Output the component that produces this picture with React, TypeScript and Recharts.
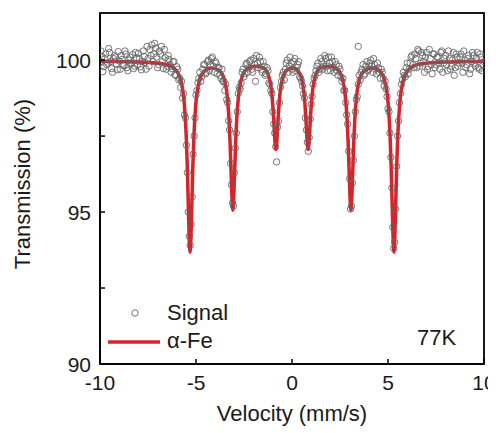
import React from 'react';
import { ComposedChart, Line, Scatter, XAxis, YAxis, Customized } from 'recharts';

const xTicks = [-10, -5, 0, 5, 10];
const yTicks = [90, 92.5, 95, 97.5, 100];
const xDomain: [number, number] = [-10, 10];
const yDomain: [number, number] = [90, 101.55];

// Signal: [velocity (mm/s), transmission (%)]
const signalPointsA: [number, number][] = [
  [-10.0, 99.92], [-9.9, 100.12], [-9.8, 99.78], [-9.7, 100.2], [-9.6, 99.9], [-9.5, 100.25], [-9.4, 99.72], [-9.3, 100.05],
  [-9.2, 100.1], [-9.1, 99.68], [-9.0, 99.97], [-8.9, 100.15], [-8.8, 99.83], [-8.7, 100.3], [-8.6, 99.75], [-8.5, 100.0],
  [-8.4, 99.87], [-8.3, 100.18], [-8.2, 99.8], [-8.1, 100.08], [-8.0, 100.22], [-7.9, 99.78], [-7.8, 99.95], [-7.7, 100.12],
  [-7.6, 99.7], [-7.5, 100.05], [-7.4, 100.35], [-7.3, 100.5], [-7.2, 100.2], [-7.1, 100.4], [-7.0, 99.75], [-6.9, 100.3],
  [-6.8, 100.45], [-6.7, 99.72], [-6.6, 100.08], [-6.5, 99.8], [-6.4, 100.02], [-6.3, 99.6], [-6.2, 99.95], [-6.1, 99.52],
  [-6.0, 99.78], [-5.9, 99.35], [-5.8, 99.1], [-5.7, 98.75], [-5.6, 98.2], [-5.5, 97.2], [-5.4, 95.0], [-5.3, 93.9],
  [-5.2, 95.5], [-5.1, 97.5], [-5.0, 98.85], [-4.9, 99.25], [-4.8, 99.6], [-4.7, 99.45], [-4.6, 99.85], [-4.5, 99.55],
  [-4.4, 99.95], [-4.3, 99.65], [-4.2, 100.05], [-4.1, 99.8], [-4.0, 99.95], [-3.9, 99.55], [-3.8, 99.75], [-3.7, 99.4],
  [-3.6, 99.3], [-3.5, 99.0], [-3.4, 98.7], [-3.3, 98.0], [-3.2, 96.6], [-3.1, 95.3], [-3.0, 96.3], [-2.9, 97.6],
  [-2.8, 98.9], [-2.7, 99.05], [-2.6, 99.6], [-2.5, 99.45], [-2.4, 99.85], [-2.3, 99.6], [-2.2, 99.95], [-2.1, 99.7],
  [-2.0, 100.05], [-1.9, 99.3], [-1.8, 99.9], [-1.7, 100.1], [-1.6, 99.7], [-1.5, 99.95], [-1.4, 99.5], [-1.3, 99.75],
  [-1.2, 99.25], [-1.1, 99.0], [-1.0, 98.3], [-0.9, 97.6], [-0.8, 96.65], [-0.7, 98.0], [-0.6, 99.1], [-0.5, 99.5],
  [-0.4, 99.35], [-0.3, 99.9], [-0.2, 99.6], [-0.1, 100.1], [0.0, 99.7], [0.1, 99.95], [0.2, 99.65], [0.3, 99.85],
  [0.4, 99.45], [0.5, 99.3], [0.6, 98.9], [0.7, 98.1], [0.8, 97.3], [0.9, 97.45], [1.0, 98.55], [1.1, 99.2],
  [1.2, 99.5], [1.3, 99.8], [1.4, 99.6], [1.5, 100.05], [1.6, 99.7], [1.7, 100.15], [1.8, 99.8], [1.9, 100.1],
  [2.0, 99.65], [2.1, 99.95], [2.2, 99.6], [2.3, 99.85], [2.4, 99.5], [2.5, 99.7], [2.6, 99.3], [2.7, 99.0],
  [2.8, 98.6], [2.9, 97.9], [3.0, 96.1], [3.1, 95.2], [3.2, 96.7], [3.3, 98.3], [3.4, 98.8], [3.45, 100.45],
  [3.5, 99.5], [3.6, 99.6], [3.7, 99.85], [3.8, 99.55], [3.9, 99.95], [4.0, 99.7], [4.1, 100.0], [4.2, 99.6],
  [4.3, 99.85], [4.4, 99.55], [4.5, 99.75], [4.6, 99.4], [4.7, 99.6], [4.8, 99.15], [4.9, 99.05], [5.0, 98.4],
  [5.1, 97.6], [5.2, 95.8], [5.3, 93.8], [5.4, 95.1], [5.5, 97.5], [5.6, 98.6], [5.7, 99.2], [5.8, 99.6],
  [5.9, 99.45], [6.0, 99.9], [6.1, 99.7], [6.2, 100.1], [6.3, 99.85], [6.4, 100.2], [6.5, 99.75], [6.6, 100.3],
  [6.7, 99.9], [6.8, 100.15], [6.9, 99.6], [7.0, 100.25], [7.1, 99.8], [7.2, 100.05], [7.3, 99.55], [7.4, 100.2],
  [7.5, 99.85], [7.6, 100.1], [7.7, 99.7], [7.8, 100.3], [7.9, 99.9], [8.0, 100.15], [8.1, 99.65], [8.2, 100.05],
  [8.3, 99.8], [8.4, 100.25], [8.5, 99.75], [8.6, 100.1], [8.7, 99.9], [8.8, 100.2], [8.9, 99.6], [9.0, 100.0],
  [9.1, 99.85], [9.2, 100.15], [9.3, 99.7], [9.4, 100.25], [9.5, 99.9], [9.6, 100.05], [9.7, 99.75], [9.8, 100.2],
  [9.9, 99.65], [10.0, 99.95],
];

const signalPointsB: [number, number][] = [
  [-9.95, 100.3], [-9.85, 99.62], [-9.75, 100.05], [-9.65, 99.85], [-9.55, 100.38], [-9.45, 99.95], [-9.35, 99.6], [-9.25, 100.15],
  [-9.15, 99.88], [-9.05, 100.28], [-8.95, 99.7], [-8.85, 100.02], [-8.75, 99.82], [-8.65, 100.2], [-8.55, 99.65], [-8.45, 100.1],
  [-8.35, 99.9], [-8.25, 99.72], [-8.15, 100.25], [-8.05, 99.85], [-7.95, 100.05], [-7.85, 99.68], [-7.75, 100.3], [-7.65, 99.92],
  [-7.55, 100.45], [-7.45, 99.8], [-7.35, 100.15], [-7.25, 99.95], [-7.15, 100.55], [-7.05, 100.1], [-6.95, 99.85], [-6.85, 100.2],
  [-6.75, 99.95], [-6.65, 100.35], [-6.55, 99.7], [-6.45, 100.15], [-6.35, 99.85], [-6.25, 99.72], [-6.15, 99.95], [-6.05, 99.5],
  [-5.95, 99.7], [-5.85, 99.4], [-5.75, 99.3], [-5.65, 98.9], [-5.55, 98.1], [-5.45, 96.3], [-5.35, 94.2], [-5.25, 94.6],
  [-5.15, 96.9], [-5.05, 98.1], [-4.95, 99.0], [-4.85, 99.4], [-4.75, 99.3], [-4.65, 99.7], [-4.55, 99.85], [-4.45, 99.6],
  [-4.35, 100.0], [-4.25, 99.85], [-4.15, 100.1], [-4.05, 99.6], [-3.95, 99.9], [-3.85, 99.75], [-3.75, 99.5], [-3.65, 99.7],
  [-3.55, 99.3], [-3.45, 99.2], [-3.35, 98.6], [-3.25, 97.7], [-3.15, 95.9], [-3.05, 95.2], [-2.95, 97.1], [-2.85, 98.3],
  [-2.75, 99.1], [-2.65, 99.25], [-2.55, 99.7], [-2.45, 99.55], [-2.35, 99.9], [-2.25, 99.75], [-2.15, 100.0], [-2.05, 99.6],
  [-1.95, 99.85], [-1.85, 100.15], [-1.75, 99.75], [-1.65, 99.95], [-1.55, 99.6], [-1.45, 99.8], [-1.35, 99.55], [-1.25, 99.65],
  [-1.15, 99.2], [-1.05, 98.9], [-0.95, 97.9], [-0.85, 97.15], [-0.75, 97.8], [-0.65, 98.6], [-0.55, 99.3], [-0.45, 99.6],
  [-0.35, 99.7], [-0.25, 100.0], [-0.15, 99.8], [-0.05, 99.9], [0.05, 99.6], [0.15, 100.05], [0.25, 99.75], [0.35, 99.95],
  [0.45, 99.4], [0.55, 99.15], [0.65, 98.75], [0.75, 97.7], [0.85, 97.0], [0.95, 98.05], [1.05, 98.8], [1.15, 99.4],
  [1.25, 99.65], [1.35, 99.9], [1.45, 99.7], [1.55, 99.95], [1.65, 99.8], [1.75, 100.05], [1.85, 99.65], [1.95, 99.9],
  [2.05, 100.1], [2.15, 99.75], [2.25, 99.95], [2.35, 99.65], [2.45, 99.8], [2.55, 99.45], [2.65, 99.4], [2.75, 99.0],
  [2.85, 98.2], [2.95, 97.0], [3.05, 95.1], [3.15, 95.95], [3.25, 97.5], [3.35, 98.7], [3.45, 99.2], [3.55, 99.35],
  [3.65, 99.7], [3.75, 99.5], [3.85, 99.8], [3.95, 99.65], [4.05, 99.9], [4.15, 99.8], [4.25, 100.05], [4.35, 99.7],
  [4.45, 99.9], [4.55, 99.6], [4.65, 99.7], [4.75, 99.4], [4.85, 99.3], [4.95, 98.8], [5.05, 98.3], [5.15, 96.8],
  [5.25, 94.5], [5.35, 94.0], [5.45, 96.5], [5.55, 98.0], [5.65, 98.9], [5.75, 99.35], [5.85, 99.5], [5.95, 99.75],
  [6.05, 99.55], [6.15, 99.9], [6.25, 100.15], [6.35, 99.75], [6.45, 100.05], [6.55, 100.35], [6.65, 99.8], [6.75, 100.25],
  [6.85, 99.95], [6.95, 100.1], [7.05, 99.7], [7.15, 100.35], [7.25, 99.85], [7.35, 100.2], [7.45, 99.75], [7.55, 100.1],
  [7.65, 99.9], [7.75, 100.25], [7.85, 99.6], [7.95, 100.05], [8.05, 99.85], [8.15, 100.3], [8.25, 99.7], [8.35, 100.0],
  [8.45, 99.5], [8.55, 100.2], [8.65, 99.8], [8.75, 100.1], [8.85, 99.9], [8.95, 100.3], [9.05, 99.75], [9.15, 100.05],
  [9.25, 99.55], [9.35, 99.95], [9.45, 100.15], [9.55, 99.8], [9.65, 100.25], [9.75, 99.7], [9.85, 100.1], [9.95, 99.85],
];

// α-Fe fit: [velocity (mm/s), transmission (%)]
const fitPoints: [number, number][] = [
  [-10, 99.96], [-9, 99.95], [-8, 99.94], [-7, 99.9], [-6.5, 99.85], [-6.01, 99.64], [-5.76, 99.25], [-5.61, 98.57],
  [-5.51, 97.51], [-5.46, 96.62], [-5.41, 95.45], [-5.36, 94.25], [-5.31, 93.68], [-5.26, 94.23], [-5.21, 95.42],
  [-5.16, 96.58], [-5.11, 97.47], [-5.01, 98.56], [-4.86, 99.23], [-4.61, 99.61], [-4.2, 99.74], [-3.78, 99.65],
  [-3.53, 99.37], [-3.38, 98.86], [-3.28, 98.04], [-3.23, 97.36], [-3.18, 96.45], [-3.13, 95.52], [-3.08, 95.06],
  [-3.03, 95.52], [-2.98, 96.45], [-2.93, 97.36], [-2.88, 98.04], [-2.78, 98.86], [-2.63, 99.39], [-2.38, 99.69],
  [-1.96, 99.8], [-1.54, 99.76], [-1.29, 99.6], [-1.14, 99.29], [-1.04, 98.81], [-0.99, 98.4], [-0.94, 97.87],
  [-0.89, 97.32], [-0.84, 97.06], [-0.79, 97.32], [-0.74, 97.87], [-0.69, 98.4], [-0.64, 98.81], [-0.54, 99.27],
  [-0.39, 99.58], [-0.14, 99.72], [0, 99.74], [0.14, 99.72], [0.39, 99.58], [0.54, 99.27], [0.64, 98.81],
  [0.69, 98.4], [0.74, 97.87], [0.79, 97.32], [0.84, 97.06], [0.89, 97.32], [0.94, 97.87], [0.99, 98.4],
  [1.04, 98.81], [1.14, 99.29], [1.29, 99.6], [1.54, 99.76], [1.96, 99.8], [2.37, 99.69], [2.62, 99.39],
  [2.77, 98.86], [2.87, 98.04], [2.92, 97.36], [2.97, 96.45], [3.02, 95.52], [3.07, 95.06], [3.12, 95.52],
  [3.17, 96.45], [3.22, 97.36], [3.27, 98.04], [3.37, 98.86], [3.52, 99.37], [3.77, 99.65], [4.19, 99.74],
  [4.61, 99.61], [4.86, 99.23], [5.01, 98.56], [5.11, 97.47], [5.16, 96.58], [5.21, 95.42], [5.26, 94.23],
  [5.31, 93.68], [5.36, 94.25], [5.41, 95.45], [5.46, 96.62], [5.51, 97.51], [5.61, 98.57], [5.76, 99.25],
  [6.01, 99.64], [6.5, 99.85], [7, 99.9], [8, 99.94], [9, 99.95], [10, 99.96],
];

const signalData = [...signalPointsA, ...signalPointsB].map(([v, t]) => ({ v, t }));
const fitData = fitPoints.map(([v, t]) => ({ v, t }));

const FONT = '"Liberation Sans", Arial, sans-serif';
const TEXT = '#1a1a1a';
const RED = '#d7232a';

const XTick = (props: any) => {
  const { x, y, payload } = props;
  return (
    <g>
      <line x1={x} x2={x} y1={y} y2={y - 5} stroke="#000" strokeWidth={1.5} />
      <text x={x} y={y + 26} textAnchor="middle" fontSize={21} fontFamily={FONT} fill={TEXT}>
        {payload.value}
      </text>
    </g>
  );
};

const YTick = (props: any) => {
  const { x, y, payload } = props;
  const labeled = Number.isInteger(payload.value);
  return (
    <g>
      <line x1={x} x2={x + 5} y1={y} y2={y} stroke="#000" strokeWidth={1.5} />
      {labeled && (
        <text x={x - 9} y={y + 7.5} textAnchor="end" fontSize={21} fontFamily={FONT} fill={TEXT}>
          {payload.value}
        </text>
      )}
    </g>
  );
};

const Circle = (props: any) => {
  const { cx, cy } = props;
  return <circle cx={cx} cy={cy} r={3.2} fill="none" stroke="#666" strokeWidth={0.9} />;
};

const Decorations = () => (
  <g>
    <rect x={92} y={5} width={384} height={351} fill="none" stroke="#000" strokeWidth={1.8} />
    <text x={22} y={176} transform="rotate(-90 22 176)" textAnchor="middle" fontSize={22} fontFamily={FONT} fill={TEXT}>
      Transmission (%)
    </text>
    <text x={284} y={413} textAnchor="middle" fontSize={22} fontFamily={FONT} fill={TEXT}>
      Velocity (mm/s)
    </text>
    <circle cx={127} cy={305} r={3.2} fill="none" stroke="#666" strokeWidth={0.9} />
    <text x={159} y={312} fontSize={22} fontFamily={FONT} fill={TEXT}>Signal</text>
    <line x1={100} x2={152} y1={334} y2={334} stroke={RED} strokeWidth={3.5} />
    <text x={159} y={340} fontSize={22} fontFamily={FONT} fill={TEXT}>α-Fe</text>
    <text x={409} y={337} fontSize={22} fontFamily={FONT} fill={TEXT}>77K</text>
  </g>
);

export default function App() {
  return (
    <ComposedChart width={488} height={425} margin={{ top: 5, right: 12, bottom: 0, left: 0 }}>
      <XAxis
        dataKey="v"
        type="number"
        domain={xDomain}
        ticks={xTicks}
        allowDataOverflow
        height={69}
        tickSize={0}
        tickMargin={0}
        tickLine={false}
        tick={<XTick />}
        axisLine={{ stroke: '#000', strokeWidth: 1.5 }}
      />
      <YAxis
        type="number"
        domain={yDomain}
        ticks={yTicks}
        allowDataOverflow
        width={92}
        tickSize={0}
        tickMargin={0}
        tickLine={false}
        tick={<YTick />}
        axisLine={{ stroke: '#000', strokeWidth: 1.5 }}
      />
      <Line
        data={fitData}
        dataKey="t"
        type="monotone"
        stroke={RED}
        strokeWidth={3.5}
        dot={false}
        activeDot={false}
        isAnimationActive={false}
      />
      <Scatter data={signalData} dataKey="t" shape={<Circle />} isAnimationActive={false} />
      <Customized component={Decorations} />
    </ComposedChart>
  );
}
